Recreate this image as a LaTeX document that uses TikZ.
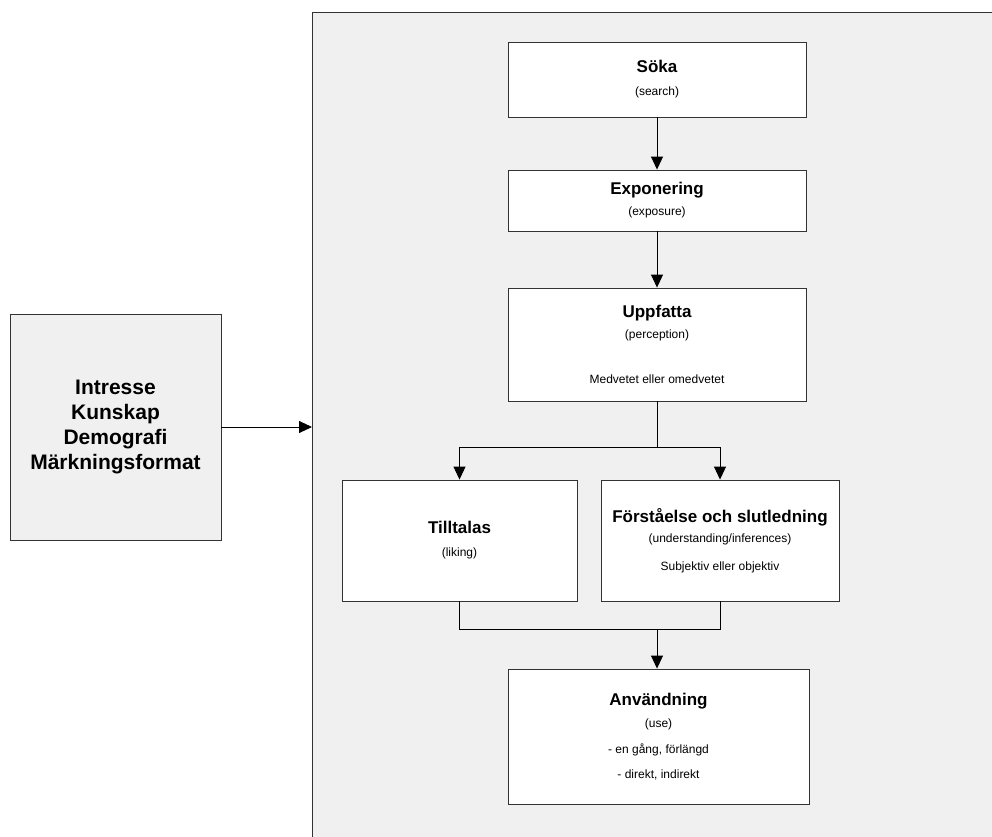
\documentclass[tikz,border=0pt]{standalone}
\usepackage{fontspec}
\setmainfont{Liberation Sans}
\usetikzlibrary{arrows.meta}

\newcommand{\rubrik}[1]{{\fontsize{17}{20}\selectfont\bfseries #1}}

\begin{document}
\begin{tikzpicture}[
    >={Triangle[width=12pt,length=13pt]},
    line width=0.9pt,
    panelbox/.style={
        draw=black!80, fill=black!6,
        anchor=north west, inner sep=0pt
    },
    stepbox/.style={
        draw=black!80, fill=white, align=center, inner sep=0pt,
        font=\fontsize{12}{22}\selectfont
    },
    faktorbox/.style={
        draw=black!80, fill=black!6, align=center, inner sep=0pt,
        font=\fontsize{21}{25}\selectfont\bfseries
    }
]
\useasboundingbox (0pt,0pt) rectangle (992pt,-836pt);

% ----------------------------------------------------------
% Grauer Bereich rechts (geht ueber den Bildrand hinaus)
% ----------------------------------------------------------
\node[panelbox, minimum width=720pt, minimum height=860pt] (panel) at (312pt,-12pt) {};

% ----------------------------------------------------------
% Einflussfaktoren links
% ----------------------------------------------------------
\node[faktorbox, minimum width=211pt, minimum height=226pt] (faktorer) at (115.5pt,-427pt)
    {Intresse\\Kunskap\\Demografi\\Märkningsformat};

% ----------------------------------------------------------
% Stegen im Prozess
% ----------------------------------------------------------
\node[stepbox, minimum width=298pt, minimum height=75pt]  (soka) at (657pt,-79.5pt)
    {\rubrik{Söka}\\[1pt](search)};
\node[stepbox, minimum width=298pt, minimum height=61pt]  (expo) at (657pt,-200.5pt)
    {\rubrik{Exponering}\\[-1pt](exposure)};
\node[stepbox, minimum width=298pt, minimum height=113pt] (uppf) at (657pt,-344.5pt)
    {\rubrik{Uppfatta}\\[-1pt](perception)\\[23pt]Medvetet eller omedvetet};
\node[stepbox, minimum width=235pt, minimum height=121pt] (till) at (459.5pt,-540.5pt)
    {\rubrik{Tilltalas}\\[1pt](liking)};
\node[stepbox, minimum width=238pt, minimum height=121pt] (forst) at (720pt,-540.5pt)
    {\rubrik{Förståelse och slutledning}\\[-2pt](understanding/inferences)\\[6pt]Subjektiv eller objektiv};
\node[stepbox, minimum width=301pt, minimum height=135pt] (anv) at (658.5pt,-736.5pt)
    {\rubrik{Användning}\\(use)\\[4pt]- en gång, förlängd\\[3pt]- direkt, indirekt};

% Verzweigung und Zusammenfuehrung
\coordinate (split) at (657pt,-447pt);
\coordinate (merge) at (657pt,-629pt);

% ----------------------------------------------------------
% Pfeile
% ----------------------------------------------------------
\draw[->] (faktorer.east) -- (faktorer.east -| panel.west);
\draw[->] (soka) -- (expo);
\draw[->] (expo) -- (uppf);
\draw (uppf.south) -- (split);
\draw[->] (split) -| (till.north);
\draw[->] (split) -| (forst.north);
\draw (till.south) |- (merge);
\draw (forst.south) |- (merge);
\draw[->] (merge) -- (merge |- anv.north);

\end{tikzpicture}
\end{document}
